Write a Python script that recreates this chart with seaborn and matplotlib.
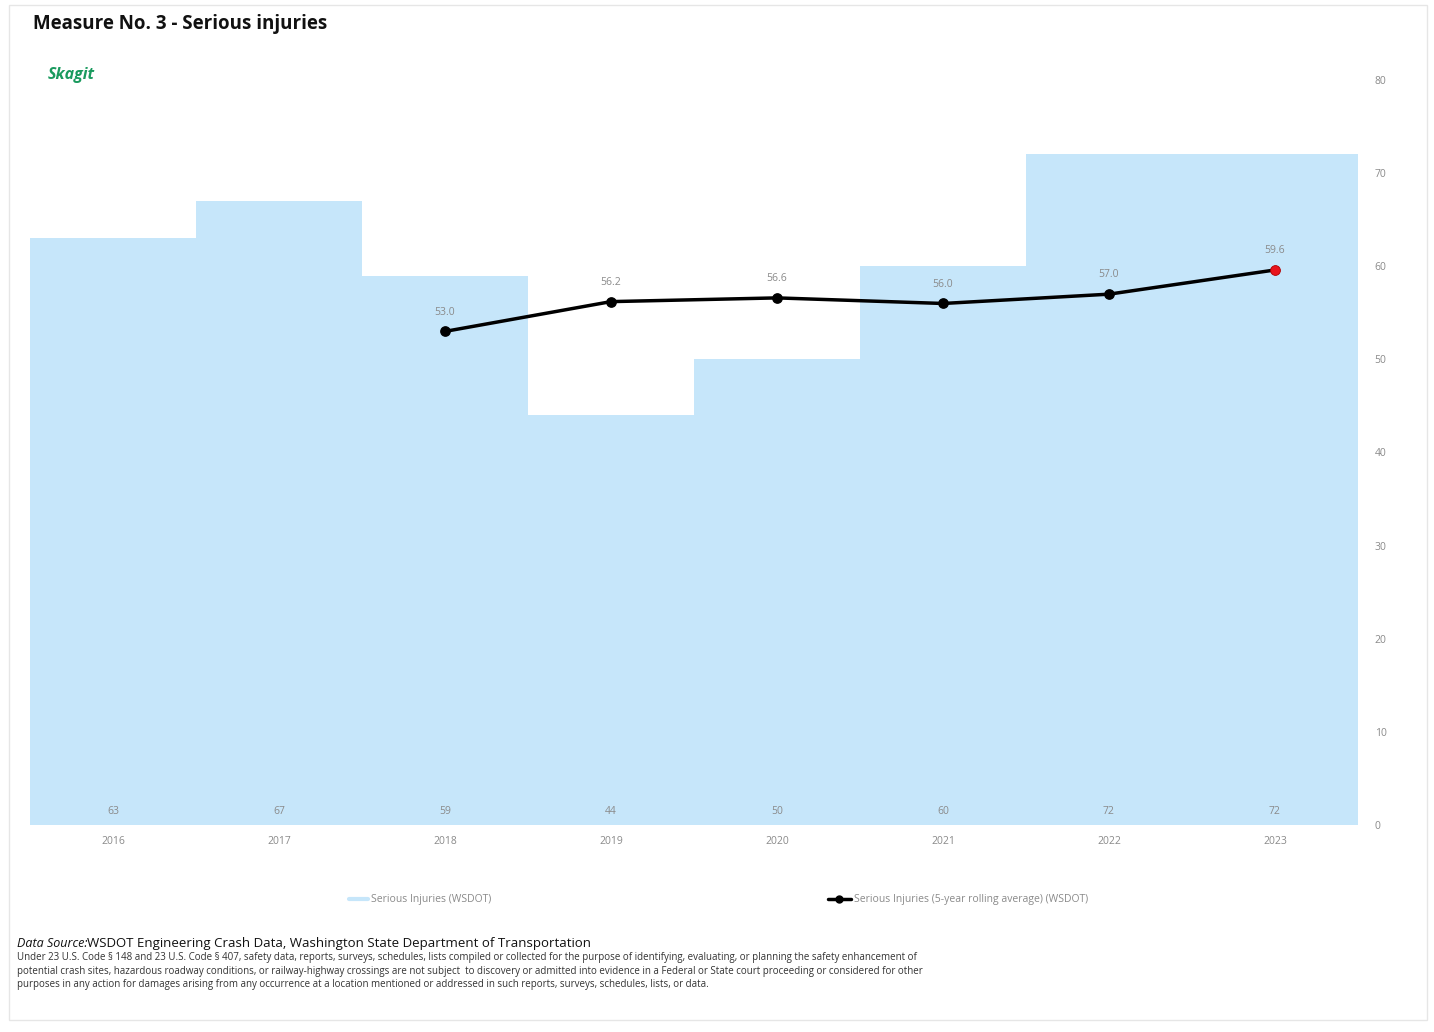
import matplotlib
matplotlib.use("Agg")
import matplotlib.pyplot as plt
from matplotlib.lines import Line2D
from matplotlib.patches import Rectangle
import seaborn as sns
import numpy as np
import pandas as pd

years = ["2016", "2017", "2018", "2019", "2020", "2021", "2022", "2023"]
injuries = [63, 67, 59, 44, 50, 60, 72, 72]
avg_years = ["2018", "2019", "2020", "2021", "2022", "2023"]
rolling_avg = [53.0, 56.2, 56.6, 56.0, 57.0, 59.6]

sns.set_theme(style="white")
plt.rcParams["font.family"] = ["Open Sans", "DejaVu Sans"]

BAR_COLOR = "#c6e6fa"
GREY = "#8a8a8a"

fig = plt.figure(figsize=(14.34, 10.32), dpi=100)
ax = fig.add_axes([0.0209, 0.2006, 0.9261, 0.7219])

df = pd.DataFrame({"year": years, "injuries": injuries})
sns.barplot(data=df, x="year", y="injuries", order=years, color=BAR_COLOR,
            width=1.0, saturation=1, edgecolor="none", ax=ax)

pos = {y: i for i, y in enumerate(years)}
xs = [pos[y] for y in avg_years]
ax.plot(xs, rolling_avg, color="black", lw=2.5, zorder=3)
ax.scatter(xs[:-1], rolling_avg[:-1], s=45, color="black", zorder=4)
ax.scatter(xs[-1:], rolling_avg[-1:], s=50, color="#e8141c", edgecolor="#b00000",
           linewidth=0.6, zorder=5)

for x, v in zip(xs, rolling_avg):
    ax.annotate(f"{v:.1f}", (x, v), xytext=(0, 10), textcoords="offset points",
                ha="center", va="bottom", fontsize=7.5, color=GREY)

for i, v in enumerate(injuries):
    ax.text(i, 1.4, f"{v}", ha="center", va="center", fontsize=7.5, color=GREY)

ax.set_xlim(-0.5, len(years) - 0.5)
ax.set_ylim(0, 80)
ax.yaxis.tick_right()
ax.set_yticks(range(0, 81, 10))
ax.tick_params(axis="y", labelsize=7.5, labelcolor=GREY, length=0, pad=12)
ax.tick_params(axis="x", labelsize=7.5, labelcolor=GREY, length=0, pad=8)
ax.set_xlabel("")
ax.set_ylabel("")
for s in ax.spines.values():
    s.set_visible(False)

# legend
h1 = Line2D([0], [0], color=BAR_COLOR, lw=3)
h2 = Line2D([0], [0], color="black", lw=2.5, marker="o", markersize=5)
fig.legend([h1], ["Serious Injuries (WSDOT)"], loc="center", bbox_to_anchor=(0.293, 0.128),
           frameon=False, fontsize=7.5, labelcolor=GREY, handlelength=1.8, handletextpad=0.3)
fig.legend([h2], ["Serious Injuries (5-year rolling average) (WSDOT)"], loc="center",
           bbox_to_anchor=(0.668, 0.128), frameon=False, fontsize=7.5, labelcolor=GREY,
           handlelength=2.2, handletextpad=0.3)

fig.text(0.023, 0.977, "Measure No. 3 - Serious injuries", fontsize=13.5, fontweight="bold",
         color="#111111", va="center", ha="left")
fig.text(0.033, 0.927, "Skagit", fontsize=11.5, fontweight="bold", style="italic",
         color="#1a9a5e", va="center", ha="left")

fig.text(0.012, 0.086, "Data Source:", fontsize=9, style="italic", color="#111111",
         va="center", ha="left")
fig.text(0.061, 0.086, "WSDOT Engineering Crash Data, Washington State Department of Transportation",
         fontsize=9.5, color="#111111", va="center", ha="left")
footnote = ("Under 23 U.S. Code § 148 and 23 U.S. Code § 407, safety data, reports, surveys, schedules, lists "
            "compiled or collected for the purpose of identifying, evaluating, or planning the safety enhancement of\n"
            "potential crash sites, hazardous roadway conditions, or railway-highway crossings are not subject  "
            "to discovery or admitted into evidence in a Federal or State court proceeding or considered for other\n"
            "purposes in any action for damages arising from any occurrence at a location mentioned or addressed "
            "in such reports, surveys, schedules, lists, or data.")
fig.text(0.012, 0.059, footnote, fontsize=7.0, color="#333333", va="center", ha="left",
         linespacing=1.35)

fig.patches.append(Rectangle((0.006, 0.012), 0.989, 0.983, transform=fig.transFigure,
                             fill=False, edgecolor="#e6e6e6", lw=1))

fig.savefig("out.png", dpi=100, facecolor="white")
